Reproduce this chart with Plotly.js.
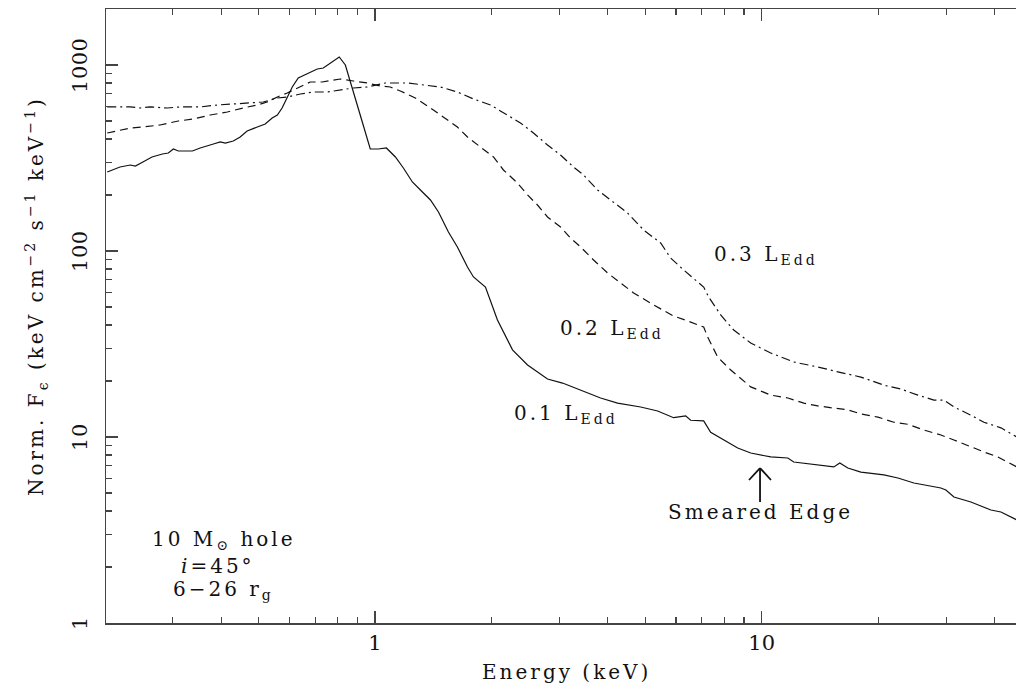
<!DOCTYPE html>
<html>
<head>
<meta charset="utf-8">
<script src="https://cdn.plot.ly/plotly-3.0.1.min.js"></script>
<style>
  html, body { margin: 0; padding: 0; overflow: hidden; background: #fff; }
  #chart { width: 1032px; height: 686px; }
  .annotation-text { letter-spacing: 3px; }
</style>
</head>
<body>
<div id="chart"></div>
<script>
// 0.1 L_Edd (solid)
const energy01 = [0.203,0.219,0.233,0.240,0.251,0.265,0.282,0.292,0.301,0.310,0.337,0.353,0.382,0.398,0.410,0.430,0.448,0.467,0.496,0.520,0.542,0.559,0.575,0.593,0.611,0.633,0.672,0.709,0.735,0.780,0.808,0.838,0.879,0.927,0.972,1.020,1.070,1.129,1.184,1.249,1.326,1.391,1.459,1.548,1.633,1.734,1.797,1.930,2.073,2.267,2.480,2.793,3.054,3.400,3.831,4.239,4.863,5.381,5.918,6.358,6.549,7.078,7.379,8.668,9.366,10.55,11.68,12.10,13.96,15.36,15.92,16.70,18.05,20.70,22.50,24.75,29.06,29.94,31.41,34.75,39.16,41.56,45.72];
const flux01 = [265.9,282.9,290.0,286.4,301.0,320.2,332.3,336.4,353.5,344.9,344.9,357.9,376.0,385.5,380.7,390.3,410.1,441.8,464.2,481.7,519.0,538.6,587.3,673.0,761.6,851.3,905.8,951.6,963.6,1050.7,1104.2,1000,707.2,493.8,353.5,353.5,357.9,320.2,279.4,235.0,207.6,188.0,162.1,126.6,105.1,82.0,72.5,64.0,42.6,29.4,24.4,20.5,19.5,17.9,16.2,15.2,14.5,13.8,12.7,13.0,12.3,12.2,10.6,8.73,8.20,7.81,7.71,7.34,7.07,6.90,7.25,6.81,6.48,6.25,6.02,5.66,5.32,5.19,4.76,4.47,4.05,3.95,3.58];

// 0.2 L_Edd (dashed)
const energy02 = [0.203,0.233,0.251,0.278,0.310,0.339,0.375,0.415,0.456,0.496,0.526,0.559,0.593,0.641,0.680,0.730,0.780,0.813,0.879,0.955,1.032,1.095,1.163,1.271,1.391,1.502,1.633,1.734,1.873,2.024,2.148,2.335,2.480,2.631,2.793,3.018,3.203,3.400,3.674,3.993,4.315,4.665,5.253,5.918,6.433,7.078,7.248,7.693,8.317,9.366,10.55,11.68,12.85,13.96,15.36,16.70,18.05,19.97,21.97,23.88,26.27,29.06,31.41,34.75,37.55,40.82,45.72];
const flux02 = [431.0,458.5,464.2,475.8,500.0,512.5,538.6,558.9,587.3,609.5,632.6,673.0,707.2,761.6,810.2,810.2,830.5,840.9,820.3,800.2,771.2,761.6,724.8,664.6,587.3,525.4,464.2,410.1,362.4,320.2,272.6,232.1,200.1,176.7,152.3,134.6,117.5,105.1,89.5,76.2,67.3,59.5,51.3,44.7,42.1,39.0,34.5,26.9,22.9,18.6,16.8,16.2,15.2,14.7,14.3,14.0,13.3,12.8,12.0,11.7,10.9,10.25,9.64,8.84,8.31,7.81,6.90];

// 0.3 L_Edd (dash-dot)
const energy03 = [0.203,0.233,0.247,0.262,0.290,0.313,0.353,0.391,0.430,0.476,0.514,0.559,0.593,0.641,0.693,0.752,0.813,0.879,0.955,1.063,1.212,1.334,1.476,1.633,1.797,1.989,2.148,2.378,2.569,2.793,3.018,3.261,3.461,3.762,4.066,4.499,4.949,5.479,5.814,6.284,7.078,7.291,7.832,8.465,9.366,10.55,12.10,13.96,15.73,18.05,20.70,22.90,25.34,27.88,29.59,31.41,34.75,37.55,41.56,45.72];
const flux03 = [594.7,594.7,587.3,594.7,587.3,594.7,594.7,609.5,617.1,624.8,632.6,664.6,673.0,698.5,716.0,716.0,733.9,752.3,761.6,800.2,800.2,780.7,761.6,716.0,656.5,609.5,552.1,487.7,431.0,371.4,328.2,282.9,256.2,212.8,188.0,160.1,129.7,110.4,91.7,79.0,64.0,56.6,45.3,37.6,32.0,28.3,25.3,23.8,22.4,21.0,19.0,18.1,16.8,15.8,15.8,14.5,13.1,12.0,11.2,10.0];

const xMajor = [1, 10];
const xMajorText = ['1', '10'];
const xMinor = [0.3,0.4,0.5,0.6,0.7,0.8,0.9,2,3,4,5,6,7,8,9,20,30,40];
const yMajor = [1, 10, 100, 1000];
const yMajorText = ['1', '10', '100', '1000'];
const yMinor = [2,3,4,5,6,7,8,9,20,30,40,50,60,70,80,90,200,300,400,500,600,700,800,900];

const lineColor = '#111';
const traces = [
  {x: energy01, y: flux01, mode: 'lines', line: {color: lineColor, width: 1.2}},
  {x: energy02, y: flux02, mode: 'lines', line: {color: lineColor, width: 1.2, dash: '8px,5px'}},
  {x: energy03, y: flux03, mode: 'lines', line: {color: lineColor, width: 1.2, dash: '9px,4px,2px,4px'}}
];

const font = 'DejaVu Serif, serif';
const axisCommon = {
  type: 'log', showgrid: false, zeroline: false,
  showline: true, linecolor: '#444', linewidth: 1.5, mirror: 'allticks',
  ticks: 'inside', ticklen: 12, tickwidth: 1.2, tickcolor: '#444',
  tickmode: 'array', tickfont: {family: font, size: 21, color: '#111'}
};

// rotated y tick labels drawn as annotations placed on the y axis scale
const yTickAnnotations = yMajor.map((v, i) => ({
  xref: 'paper', yref: 'y', x: -0.0281, y: Math.log10(v),
  xanchor: 'center', yanchor: 'middle', showarrow: false, textangle: -90,
  text: '<span style="letter-spacing:0.5px">' + yMajorText[i] + '</span>',
  font: {family: font, size: 21, color: '#111'}
}));

const layout = {
  width: 1032, height: 686,
  margin: {l: 106, r: 0, t: 9, b: 63},
  paper_bgcolor: '#fff', plot_bgcolor: '#fff',
  showlegend: false,
  font: {family: font, color: '#111'},
  xaxis: Object.assign({}, axisCommon, {
    range: [Math.log10(0.2015), Math.log10(50)],
    tickvals: xMajor, ticktext: xMajorText,
    minor: {tickmode: 'array', tickvals: xMinor, ticks: 'inside', ticklen: 6, tickwidth: 1.2, tickcolor: '#444', showgrid: false}
  }),
  yaxis: Object.assign({}, axisCommon, {
    range: [0, Math.log10(2000)],
    tickvals: yMajor, ticktext: yMajorText, showticklabels: false,
    minor: {tickmode: 'array', tickvals: yMinor, ticks: 'inside', ticklen: 6, tickwidth: 1.2, tickcolor: '#444', showgrid: false}
  }),
  annotations: yTickAnnotations.concat([
    {xref: 'paper', yref: 'paper', x: 0.4978, y: -0.080, xanchor: 'center', yanchor: 'middle', showarrow: false,
     text: 'Energy (keV)', font: {family: font, size: 20, color: '#111'}},
    {xref: 'paper', yref: 'paper', x: -0.0745, y: 0.5326, xanchor: 'center', yanchor: 'middle', showarrow: false, textangle: -90,
     text: 'Norm. F<sub>ϵ</sub> (keV cm<sup>−2</sup> s<sup>−1</sup> keV<sup>−1</sup>)', font: {family: font, size: 20, color: '#111'}},
    {xref: 'paper', yref: 'paper', x: 0.6544, y: 0.5993, xanchor: 'left', yanchor: 'middle', showarrow: false,
     text: '0.3 L<sub>Edd</sub>', font: {family: font, size: 20, color: '#111'}},
    {xref: 'paper', yref: 'paper', x: 0.4881, y: 0.4788, xanchor: 'left', yanchor: 'middle', showarrow: false,
     text: '0.2 L<sub>Edd</sub>', font: {family: font, size: 20, color: '#111'}},
    {xref: 'paper', yref: 'paper', x: 0.4384, y: 0.3404, xanchor: 'left', yanchor: 'middle', showarrow: false,
     text: '0.1 L<sub>Edd</sub>', font: {family: font, size: 20, color: '#111'}},
    {xref: 'paper', yref: 'paper', x: 0.7063, y: 0.1808, xanchor: 'center', yanchor: 'middle', showarrow: false,
     text: 'Smeared Edge', font: {family: font, size: 20, color: '#111'}},
    {xref: 'paper', yref: 'paper', x: 0.1274, y: 0.1355, xanchor: 'center', yanchor: 'middle', showarrow: false,
     text: '10 M<sub>⊙</sub> hole', font: {family: font, size: 20, color: '#111'}},
    {xref: 'paper', yref: 'paper', x: 0.1210, y: 0.0935, xanchor: 'center', yanchor: 'middle', showarrow: false,
     text: '<i>i</i>=45°', font: {family: font, size: 20, color: '#111'}},
    {xref: 'paper', yref: 'paper', x: 0.1274, y: 0.0530, xanchor: 'center', yanchor: 'middle', showarrow: false,
     text: '6−26 r<sub>g</sub>', font: {family: font, size: 20, color: '#111'}}
  ]),
  shapes: [
    {type: 'line', xref: 'paper', yref: 'paper', x0: 0.7063, x1: 0.7063, y0: 0.1971, y1: 0.2524, line: {color: '#111', width: 1.8}},
    {type: 'line', xref: 'paper', yref: 'paper', x0: 0.6944, x1: 0.7063, y0: 0.2329, y1: 0.2524, line: {color: '#111', width: 1.8}},
    {type: 'line', xref: 'paper', yref: 'paper', x0: 0.7181, x1: 0.7063, y0: 0.2329, y1: 0.2524, line: {color: '#111', width: 1.8}}
  ]
};

Plotly.newPlot('chart', traces, layout, {displayModeBar: false, staticPlot: true});
</script>
</body>
</html>
